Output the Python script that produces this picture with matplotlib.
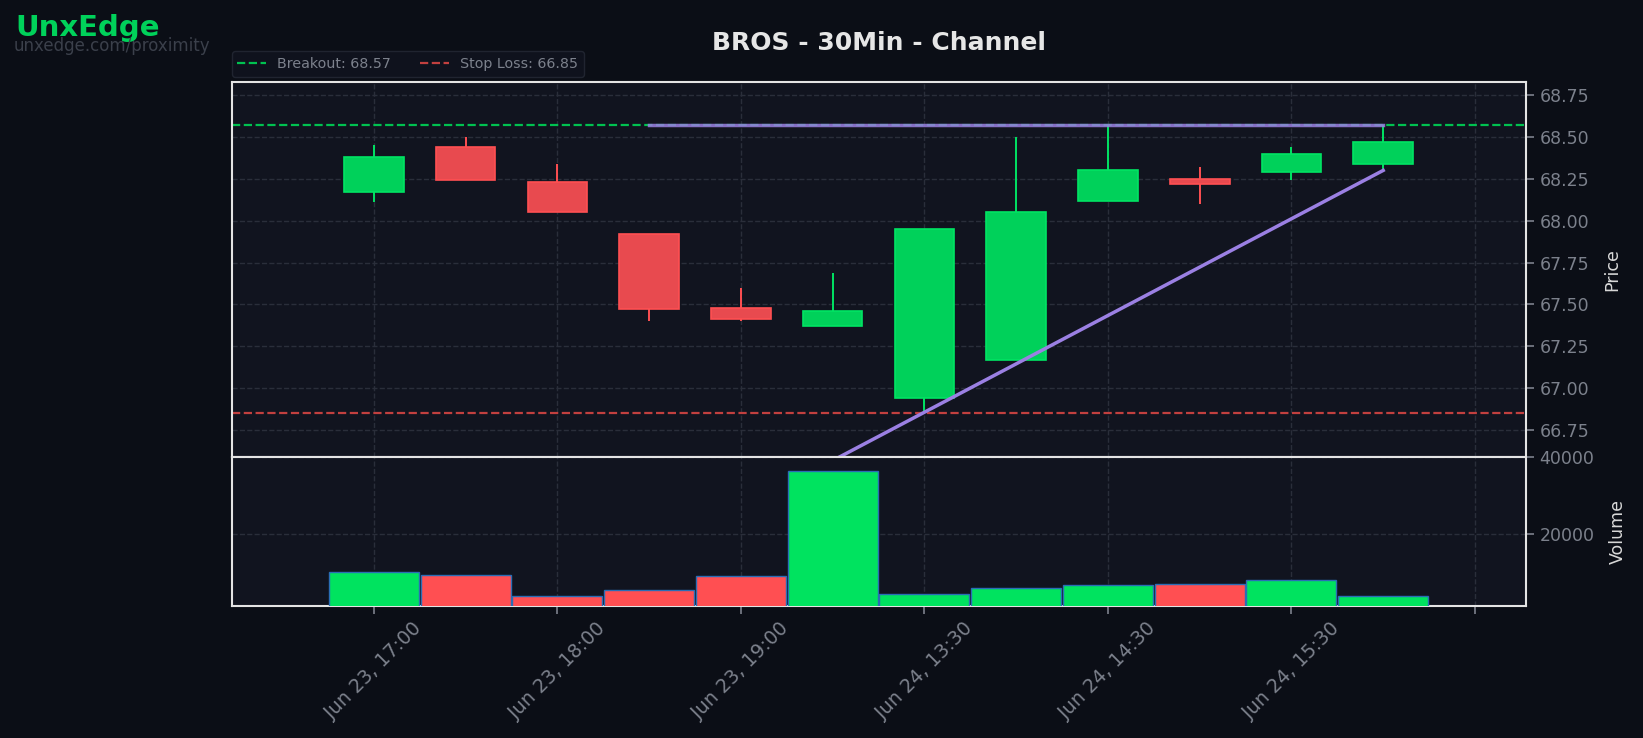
import matplotlib
matplotlib.use("Agg")
import matplotlib.pyplot as plt

# candle data (30 min bars)
tick_labels = ["Jun 23, 17:00", "Jun 23, 18:00", "Jun 23, 19:00",
               "Jun 24, 13:30", "Jun 24, 14:30", "Jun 24, 15:30", ""]
opens = [68.17, 68.44, 68.23, 67.92, 67.48, 67.37, 66.94, 67.17, 68.12, 68.25, 68.29, 68.34]
highs = [68.45, 68.50, 68.34, 67.92, 67.60, 67.69, 67.95, 68.50, 68.57, 68.32, 68.44, 68.57]
lows = [68.11, 68.24, 68.05, 67.40, 67.40, 67.37, 66.85, 67.17, 68.12, 68.10, 68.24, 68.30]
closes = [68.38, 68.24, 68.05, 67.47, 67.41, 67.46, 67.95, 68.05, 68.30, 68.22, 68.40, 68.47]
volumes = [10100, 9300, 3950, 5450, 9050, 36200, 4500, 5950, 6750, 7000, 8100, 3950]

breakout = 68.57
stop_loss = 66.85
channel_start, channel_end = 3, 11
channel_top = [68.57, 68.57]
channel_bottom = [65.99, 68.30]

BG = "#0b0e16"
FACE = "#11141f"
GREEN = "#00d15a"
GREEN_EDGE = "#00e463"
RED = "#e84a4f"
RED_EDGE = "#ff4f52"
PURPLE = "#9b80e3"
TICK = "#7c818c"
SPINE = "#e4e4e4"
GRID = "#2a2e3a"

fig = plt.figure(figsize=(16.43, 7.38), dpi=100, facecolor=BG)
ax = fig.add_axes([0.141, 0.381, 0.788, 0.5075], facecolor=FACE)
axv = fig.add_axes([0.141, 0.179, 0.788, 0.202], facecolor=FACE, sharex=ax)

x = list(range(len(opens)))

# candles
for i in x:
    up = closes[i] >= opens[i]
    color = GREEN if up else RED
    edge = GREEN_EDGE if up else RED_EDGE
    ax.vlines(i, lows[i], highs[i], color=edge, linewidth=1.4, zorder=3)
    bottom = min(opens[i], closes[i])
    height = max(abs(closes[i] - opens[i]), 0.012)
    ax.bar(i, height, bottom=bottom, width=0.65, color=color,
           edgecolor=edge, linewidth=1.2, zorder=4)

ax.axhline(breakout, color="#00c150", linestyle="--", linewidth=1.6,
           label=f"Breakout: {breakout:.2f}", zorder=2)
ax.axhline(stop_loss, color="#c2403f", linestyle="--", linewidth=1.6,
           label=f"Stop Loss: {stop_loss:.2f}", zorder=2)

ax.plot([channel_start, channel_end], channel_top, color=PURPLE, linewidth=2.5,
        alpha=0.85, zorder=5)
ax.plot([channel_start, channel_end], channel_bottom, color=PURPLE, linewidth=2.5,
        zorder=5)

ax.set_xlim(-1.55, 12.56)
ax.set_ylim(66.59, 68.826)
ax.set_yticks([66.75 + 0.25 * k for k in range(9)])
ax.yaxis.set_major_formatter(matplotlib.ticker.FormatStrFormatter("%.2f"))

# volume
vol_colors = ["#00e35f" if c >= o else "#ff4f52" for o, c in zip(opens, closes)]
axv.bar(x, volumes, width=0.98, color=vol_colors, edgecolor="#2a6db5",
        linewidth=1.0, zorder=3)
axv.set_ylim(1400, 40000)
axv.set_yticks([20000, 40000])
axv.set_xticks(range(0, 13, 2))
axv.set_xticklabels(tick_labels, rotation=45, ha="center")

for a, label in [(ax, "Price"), (axv, "Volume")]:
    a.yaxis.tick_right()
    a.yaxis.set_label_position("right")
    a.set_ylabel(label, color="#d8d8d8", fontsize=12.5, labelpad=10)
    a.tick_params(colors=TICK, labelsize=12.5, length=6, width=1.2)
    a.grid(True, color=GRID, linestyle="--", linewidth=1.0)
    a.set_axisbelow(True)
    for s in a.spines.values():
        s.set_color(SPINE)
        s.set_linewidth(1.5)
axv.tick_params(axis="x", labelsize=13.8)
plt.setp(ax.get_xticklabels(), visible=False)
ax.tick_params(axis="x", length=0)

leg = ax.legend(loc="lower left", bbox_to_anchor=(0, 1.015), borderaxespad=0,
                ncol=2, fontsize=10.3, frameon=True, facecolor=FACE,
                edgecolor="#252a36", labelcolor=TICK, handlelength=2.0,
                columnspacing=2.0)

fig.text(0.535, 0.942, "BROS - 30Min - Channel", ha="center", va="center",
         fontsize=18, fontweight="bold", color="#e6e6e6")
fig.text(0.0095, 0.962, "UnxEdge", ha="left", va="center", fontsize=21,
         fontweight="bold", color="#00d15a")
fig.text(0.0085, 0.938, "unxedge.com/proximity", ha="left", va="center",
         fontsize=12, color="#3b404b")

fig.savefig("out.png", dpi=100, facecolor=BG)
